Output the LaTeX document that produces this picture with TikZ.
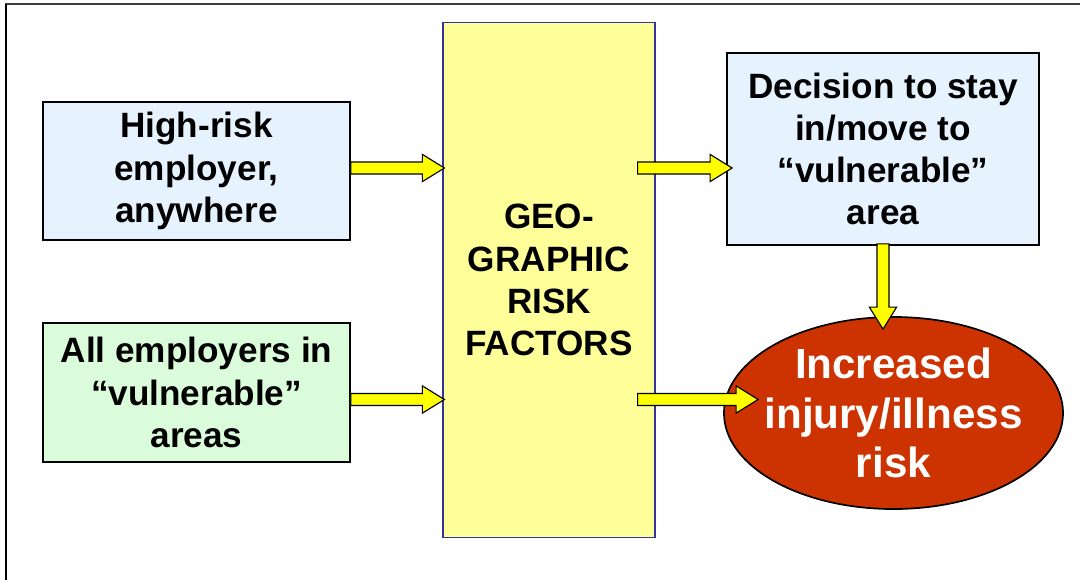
\documentclass[tikz,border=0pt]{standalone}
\usepackage{fontspec}
\setmainfont{Liberation Sans}
\usepackage{tikz}
\usetikzlibrary{positioning, calc, shapes.geometric}
\definecolor{boxblue}{RGB}{230,243,255}
\definecolor{boxgreen}{RGB}{218,252,218}
\definecolor{geoyellow}{RGB}{255,255,153}
\definecolor{geoborder}{RGB}{51,51,153}
\definecolor{riskred}{RGB}{204,51,0}
\definecolor{arrowyellow}{RGB}{255,255,0}
\definecolor{framegray}{RGB}{60,60,60}

% bloc arrow between two named points
\newcommand{\flowarrow}[2]{%
  \coordinate (fa-h) at ($(#2)!0.55cm!(#1)$);
  \draw[flowarrow] ($(#1)!0.15cm!90:(#2)$) -- ($(fa-h)!0.15cm!90:(#2)$)
    -- ($(fa-h)!0.34cm!90:(#2)$) -- (#2) -- ($(fa-h)!0.34cm!-90:(#2)$)
    -- ($(fa-h)!0.15cm!-90:(#2)$) -- ($(#1)!0.15cm!-90:(#2)$) -- cycle;}

\begin{document}
\begin{tikzpicture}[x=0.025cm, y=-0.025cm,
    inbox/.style={rectangle, draw=black, line width=1.2pt, align=center,
      font=\fontsize{25}{30}\selectfont\bfseries, inner sep=2pt},
    flowarrow/.style={fill=arrowyellow, draw=black, line width=0.8pt, line join=miter}]

    \useasboundingbox (0,0) rectangle (1080,580);

    % === CADRE ===
    \draw[line width=1.6pt, framegray] (5,4) -- (1080,4);
    \draw[line width=2pt, black] (6,4) -- (6,580);

    % === FACTEURS GEOGRAPHIQUES ===
    \node[rectangle, draw=geoborder, fill=geoyellow, line width=0.8pt,
      minimum width=5.3cm, minimum height=12.85cm, align=center,
      font=\fontsize{25}{30}\selectfont\bfseries] (geo) at (549,280)
      {GEO-\\GRAPHIC\\RISK\\FACTORS};

    % === ENTREES ===
    \node[inbox, fill=boxblue, minimum width=7.675cm, minimum height=3.45cm]
      (highrisk) at (196.5,171) {High-risk\\employer,\\anywhere};
    \node[inbox, fill=boxgreen, minimum width=7.675cm, minimum height=3.475cm]
      (allemp) at (196.5,392.5) {All employers in\\“vulnerable”\\areas};

    % === SORTIES ===
    \node[inbox, fill=boxblue, minimum width=7.8cm, minimum height=4.8cm]
      (decide) at (883,149) {Decision to stay\\in/move to\\“vulnerable”\\area};
    \node[ellipse, draw=black, line width=1.2pt, fill=riskred, text=white,
      minimum width=8.475cm, minimum height=4.8cm, inner sep=-14pt, align=center,
      font=\fontsize{30}{35}\selectfont\bfseries] (harm) at (893.5,413)
      {Increased\\injury/illness\\risk};

    % === FLECHES ===
    \coordinate (in1) at ($(geo.west |- highrisk.east)+(2,-3)$);
    \coordinate (s2) at ($(allemp.east)+(0,7)$);
    \coordinate (in2) at ($(geo.west |- s2)+(2,0)$);
    \coordinate (o1) at ($(geo.east |- in1)+(-18,0)$);
    \coordinate (t1) at ($(decide.west |- o1)+(6,0)$);
    \coordinate (o2) at ($(geo.east |- in2)+(-18,0)$);
    \coordinate (t2) at ($(harm.west |- o2)+(35,0)$);
    \coordinate (d1) at ($(decide.south)+(0,-2)$);
    \coordinate (t3) at ($(decide.south |- harm.north)+(0,13)$);
    \coordinate (s1) at ($(highrisk.east)+(0,-3)$);

    \flowarrow{s1}{in1}
    \flowarrow{s2}{in2}
    \flowarrow{o1}{t1}
    \flowarrow{o2}{t2}
    \flowarrow{d1}{t3}

\end{tikzpicture}
\end{document}
